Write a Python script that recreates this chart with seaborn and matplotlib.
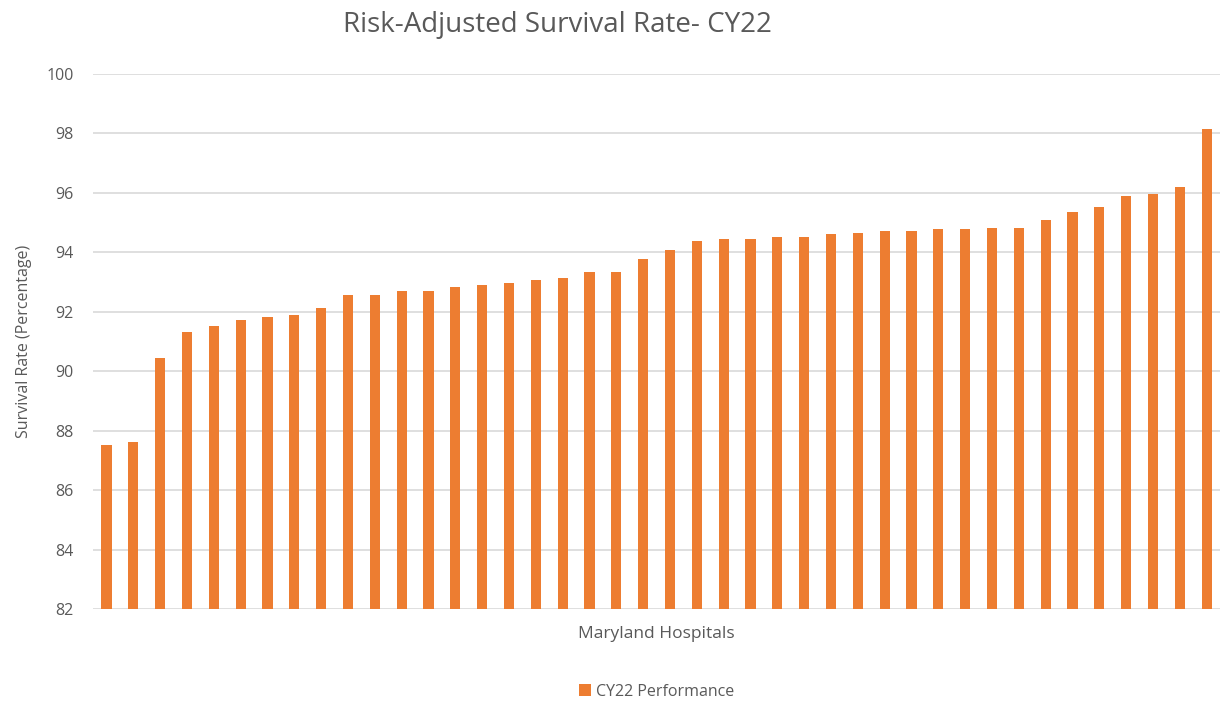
import seaborn as sns
import matplotlib.pyplot as plt
import pandas as pd

# Risk-adjusted survival rates per hospital, sorted ascending
hospitals = [f"H{i + 1}" for i in range(42)]
survival = [
    87.51, 87.63, 90.45, 91.33, 91.52, 91.71, 91.83, 91.89, 92.13, 92.57,
    92.57, 92.71, 92.71, 92.83, 92.89, 92.96, 93.08, 93.15, 93.34, 93.34,
    93.76, 94.09, 94.39, 94.46, 94.46, 94.53, 94.53, 94.60, 94.65, 94.71,
    94.71, 94.78, 94.78, 94.83, 94.83, 95.08, 95.34, 95.53, 95.89, 95.96,
    96.20, 98.15,
]
y_ticks = [82, 84, 86, 88, 90, 92, 94, 96, 98, 100]

df = pd.DataFrame({"Hospital": hospitals, "Survival": survival})

sns.set_style("white")
plt.rcParams["font.family"] = ["Open Sans", "DejaVu Sans"]

text_color = "#595959"
bar_color = "#ED7D31"

fig = plt.figure(figsize=(12.25, 7.06), dpi=100)
ax = fig.add_axes([0.076, 0.1374, 0.92, 0.7578])

sns.barplot(data=df, x="Hospital", y="Survival", color=bar_color,
            width=0.38, saturation=1, linewidth=0, ax=ax, label="CY22 Performance")

ax.set_ylim(82, 100)
ax.set_yticks(y_ticks)
ax.set_xlim(-0.5, len(hospitals) - 0.5)
ax.yaxis.grid(True, color="#D9D9D9", linewidth=1.2)
ax.set_axisbelow(True)
for s in ax.spines.values():
    s.set_visible(False)
ax.set_xticks([])
ax.tick_params(axis="y", length=0, labelsize=11.5, colors=text_color, pad=14)

ax.set_xlabel("Maryland Hospitals", fontsize=12.5, color=text_color, labelpad=12)
ax.set_ylabel("Survival Rate (Percentage)", fontsize=11.5, color=text_color, labelpad=10)
fig.text(0.455, 0.965, "Risk-Adjusted Survival Rate- CY22", ha="center", va="center",
         fontsize=20, color=text_color)

leg = ax.legend(loc="center", bbox_to_anchor=(0.5, -0.155), frameon=False,
                fontsize=11.5, handlelength=0.8, handleheight=0.8, handletextpad=0.3)
for t in leg.get_texts():
    t.set_color(text_color)

fig.savefig("out.png", dpi=100)
